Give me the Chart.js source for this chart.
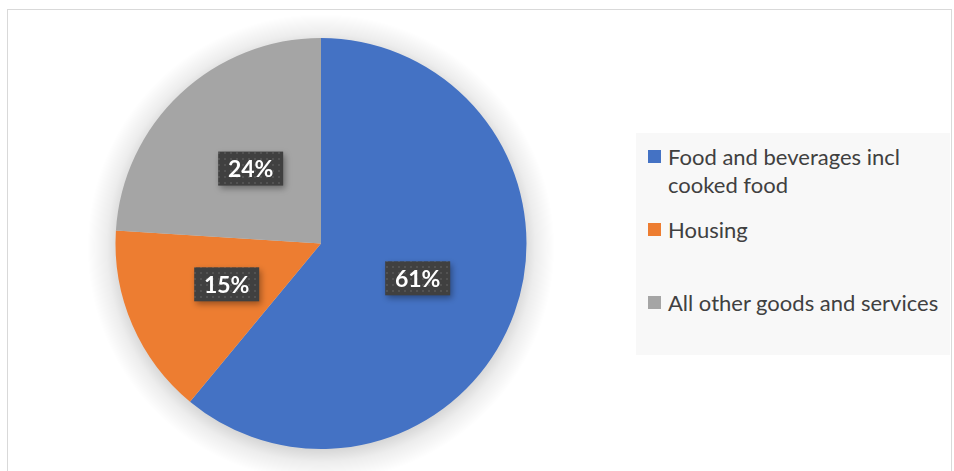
<!DOCTYPE html>
<html>
<head>
<meta charset="utf-8">
<script src="https://cdn.jsdelivr.net/npm/chart.js@4"></script>
<style>
  body { margin: 0; background: #fff; }
  #wrap { position: relative; width: 954px; height: 471px; overflow: hidden; }
  #frame { position: absolute; left: 7px; top: 9px; width: 943px; height: 480px; border: 1px solid #d9d9d9; }
  #pieChart { position: absolute; left: 0; top: 0; }
  #legend {
    position: absolute; left: 636px; top: 133px; width: 314px; height: 222px;
    background: #f8f8f8; font-family: Lato, "Open Sans", sans-serif; font-size: 22px; color: #404040;
  }
  .item { position: absolute; left: 12px; height: 73px; width: 300px; }
  .box { position: absolute; left: 0; top: 7px; width: 13px; height: 13px; }
  .txt { position: absolute; left: 20px; top: 0; width: 275px; line-height: 28px; white-space: normal; }
</style>
</head>
<body>
<div id="wrap">
  <div id="frame"></div>
  <canvas id="pieChart" width="954" height="471"></canvas>
  <div id="legend"></div>
</div>
<script>
// データ
const labels = ['Food and beverages incl cooked food', 'Housing', 'All other goods and services'];
const values = [61, 15, 24];
const colors = ['#4472C4', '#ED7D31', '#A5A5A5'];

// 凡例 (HTML)
const legendEl = document.getElementById('legend');
labels.forEach((lab, i) => {
    const item = document.createElement('div');
    item.className = 'item';
    item.style.top = (10 + i * 73) + 'px';
    item.innerHTML = '<div class="box" style="background:' + colors[i] + '"></div><div class="txt">' + lab + '</div>';
    legendEl.appendChild(item);
});

// ラベル用の点々パターン
const pc = document.createElement('canvas');
pc.width = 6; pc.height = 6;
const pctx = pc.getContext('2d');
pctx.fillStyle = '#404040';
pctx.fillRect(0, 0, 6, 6);
pctx.fillStyle = '#525252';
pctx.fillRect(2, 2, 2, 2);

// 円の影 (放射グラデーション)
const shadowPlugin = {
    id: 'pieShadow',
    beforeDatasetsDraw(chart) {
        const arc = chart.getDatasetMeta(0).data[0];
        if (!arc) return;
        const ctx = chart.ctx;
        const r = arc.outerRadius;
        const cx = arc.x, cy = arc.y + 4;
        const g = ctx.createRadialGradient(cx, cy, r - 4, cx, cy, r + 28);
        g.addColorStop(0, 'rgba(0,0,0,0.16)');
        g.addColorStop(0.4, 'rgba(0,0,0,0.07)');
        g.addColorStop(1, 'rgba(0,0,0,0)');
        ctx.save();
        ctx.fillStyle = g;
        ctx.beginPath();
        ctx.arc(cx, cy, r + 28, 0, Math.PI * 2);
        ctx.fill();
        ctx.restore();
    }
};

// データラベル
const labelPlugin = {
    id: 'boxLabels',
    afterDatasetsDraw(chart) {
        const ctx = chart.ctx;
        const total = values.reduce((a, b) => a + b, 0);
        chart.getDatasetMeta(0).data.forEach((arc, i) => {
            const p = arc.getCenterPoint();
            const w = 65, h = 34;
            ctx.save();
            ctx.shadowColor = 'rgba(0,0,0,0.35)';
            ctx.shadowBlur = 6;
            ctx.shadowOffsetX = 2;
            ctx.shadowOffsetY = 3;
            ctx.fillStyle = ctx.createPattern(pc, 'repeat');
            ctx.fillRect(p.x - w / 2, p.y - h / 2, w, h);
            ctx.restore();
            ctx.save();
            ctx.fillStyle = '#ffffff';
            ctx.font = 'bold 23px Lato, "Open Sans", sans-serif';
            ctx.textAlign = 'center';
            ctx.textBaseline = 'middle';
            ctx.fillText(Math.round(values[i] / total * 100) + '%', p.x, p.y + 1);
            ctx.restore();
        });
    }
};

const chart = new Chart(document.getElementById('pieChart').getContext('2d'), {
    type: 'pie',
    data: {
        labels: labels,
        datasets: [{
            data: values,
            backgroundColor: colors,
            borderWidth: 0,
            clip: false,
        }]
    },
    options: {
        responsive: false,
        animation: false,
        layout: {
            padding: { left: 115.5, right: 427.5, top: 38, bottom: 22 }
        },
        plugins: {
            legend: { display: false },
            tooltip: { enabled: false }
        }
    },
    plugins: [shadowPlugin, labelPlugin]
});
</script>
</body>
</html>
